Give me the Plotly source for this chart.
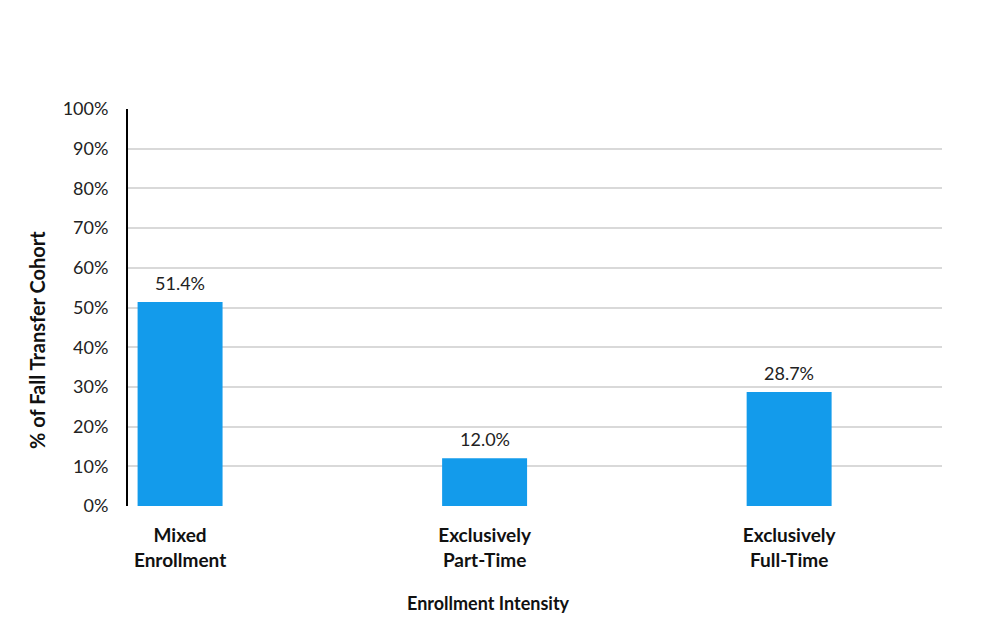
import plotly.graph_objects as go

categories = ["Mixed<br>Enrollment", "Exclusively<br>Part-Time", "Exclusively<br>Full-Time"]
values = [51.4, 12.0, 28.7]
value_labels = ["51.4%", "12.0%", "28.7%"]
y_ticks = [0, 10, 20, 30, 40, 50, 60, 70, 80, 90, 100]
y_tick_labels = [f"{v}%" for v in y_ticks]

FONT = "Lato, Liberation Sans, sans-serif"
positions = list(range(len(categories)))

fig = go.Figure()
fig.add_trace(go.Bar(
    x=positions, y=values, width=0.279,
    marker=dict(color="#139BEB", line=dict(width=0)),
    cliponaxis=False,
))

annotations = [
    dict(x=p, y=v, text=t, xref="x", yref="y", showarrow=False,
         yanchor="bottom", xanchor="center", yshift=6,
         font=dict(family=FONT, size=18, color="#222222"))
    for p, v, t in zip(positions, values, value_labels)
]
annotations += [
    dict(text="<b>Enrollment Intensity</b>", xref="paper", yref="paper",
         x=(488 - 128) / 814, y=-(603 - 506) / 397, showarrow=False,
         font=dict(family=FONT, size=18, color="#111111"),
         xanchor="center", yanchor="middle"),
    dict(text="<b>% of Fall Transfer Cohort</b>", xref="paper", yref="paper",
         x=-(128 - 37) / 814, y=(506 - 340) / 397, showarrow=False, textangle=-90,
         font=dict(family=FONT, size=20, color="#111111"),
         xanchor="center", yanchor="middle"),
]

fig.update_layout(
    width=987, height=612,
    margin=dict(l=120, r=53, t=101, b=114),
    paper_bgcolor="white", plot_bgcolor="white",
    showlegend=False,
    xaxis=dict(
        range=[-0.171, 2.502],
        tickvals=positions, ticktext=categories,
        tickfont=dict(family=FONT, size=19, color="#111111", weight="bold"),
        showgrid=False, zeroline=False, showline=False,
        ticks="outside", ticklen=12, tickcolor="rgba(0,0,0,0)",
    ),
    yaxis=dict(
        range=[0, 100],
        tickvals=y_ticks, ticktext=y_tick_labels,
        tickfont=dict(family=FONT, size=18, color="#222222"),
        showgrid=True, gridcolor="#D9D9D9", gridwidth=2,
        zeroline=False,
        showline=True, linecolor="black", linewidth=2,
        ticks="outside", ticklen=14, tickcolor="rgba(0,0,0,0)",
    ),
    annotations=annotations,
)

fig.write_html("out.html")
